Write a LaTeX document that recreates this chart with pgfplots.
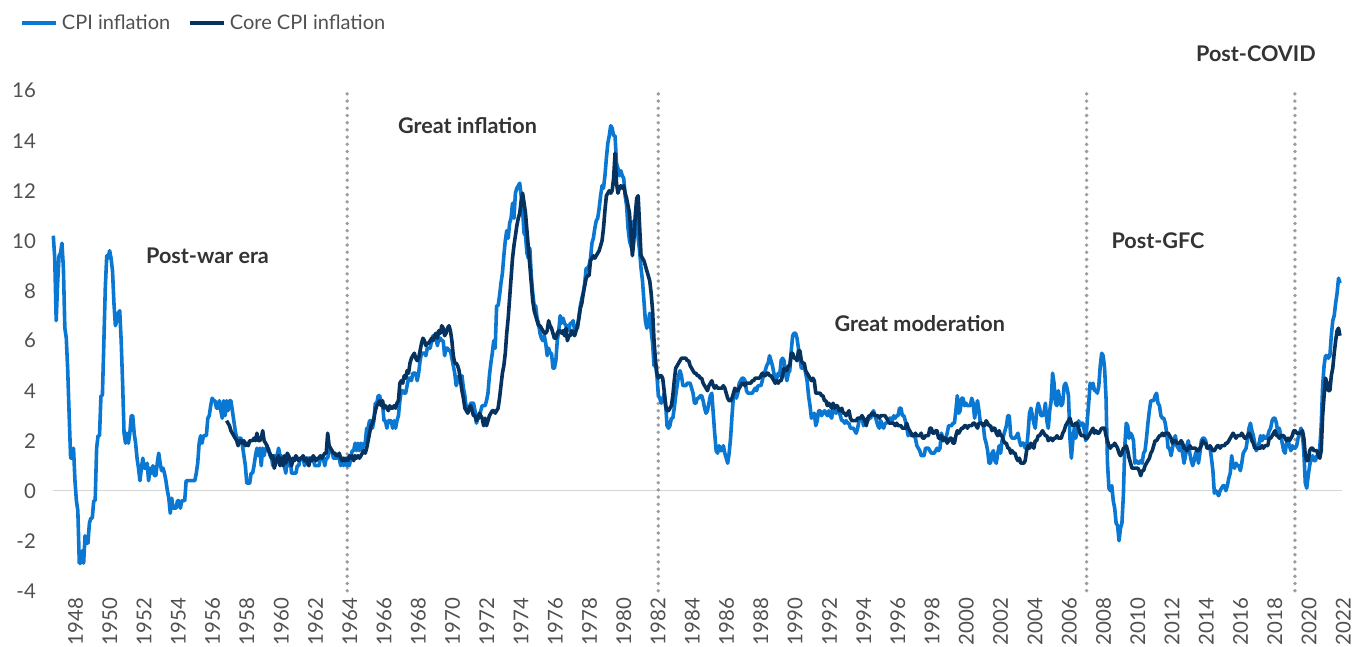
\documentclass[border=0pt]{standalone}
\usepackage{fontspec}
\setmainfont{Lato}
\usepackage{pgfplots}
\pgfplotsset{compat=1.18}
\definecolor{cpiblue}{HTML}{0A77D2}
\definecolor{corenavy}{HTML}{05325E}
\definecolor{ticktext}{HTML}{505050}
\definecolor{anntext}{HTML}{333333}
\definecolor{dotgray}{HTML}{9C9CA2}
\definecolor{zerogray}{HTML}{D5D5D5}
\begin{document}
\begin{tikzpicture}
\path[use as bounding box] (-26.65pt,-28.15pt) rectangle (649.85pt,295.35pt);
\begin{axis}[
  scale only axis, width=644.63pt, height=250pt,
  at={(0,0)}, anchor=south west,
  xmin=1948, xmax=2022.4, ymin=-4, ymax=16,
  clip=false,
  axis line style={draw=none},
  major tick length=0pt,
  tick style={draw=none},
  /pgf/number format/assume math mode=true,
  ytick={-4,-2,...,16},
  yticklabel style={font=\fontsize{10.2}{12}\selectfont, text=ticktext, xshift=-5.2pt},
  xtick={1949.15,1951.127,...,2022.4},
  xticklabels={1948,1950,1952,1954,1956,1958,1960,1962,1964,1966,1968,1970,1972,1974,1976,1978,1980,1982,1984,1986,1988,1990,1992,1994,1996,1998,2000,2002,2004,2006,2008,2010,2012,2014,2016,2018,2020,2022},
  xticklabel style={font=\fontsize{10.2}{12}\selectfont, text=ticktext, rotate=90, anchor=east, yshift=-1.2pt},
  legend columns=2,
  legend style={at={(-0.0305,1.135)}, anchor=west, draw=none, fill=none,
    font=\fontsize{10}{12}\selectfont, text=ticktext,
    /tikz/every even column/.append style={column sep=7pt}},
  legend image code/.code={\draw[#1] (0pt,0pt) -- (17pt,0pt);},
]
% zero line and era separators
\draw[zerogray, line width=0.8pt] (axis cs:1948,0) -- (axis cs:2022.35,0);
\foreach \xx in {1964.96,1982.91,2007.63,2019.65}{
  \edef\tmp{\noexpand\draw[dotgray, line width=1.9pt, line cap=round, dash pattern=on 0pt off 3.6pt] (axis cs:\xx,-4) -- (axis cs:\xx,16);}
  \tmp
}
\addplot[cpiblue, line width=1.8pt, line join=round] table[row sep=\\, header=false, x expr={1948+\coordindex/12}, y index=0] {
10.2\\9.3\\6.8\\8.3\\9.4\\9.5\\9.9\\8.9\\6.5\\6.1\\4.8\\3.0\\
1.3\\1.3\\1.7\\0.4\\-0.4\\-0.8\\-2.9\\-2.9\\-2.4\\-2.9\\-1.8\\-2.1\\
-2.1\\-1.3\\-1.1\\-1.1\\-0.4\\-0.4\\1.7\\2.2\\2.2\\3.8\\3.8\\5.9\\
8.1\\9.4\\9.3\\9.6\\9.3\\8.8\\7.5\\6.6\\6.8\\7.1\\7.2\\6.0\\
4.3\\2.3\\1.9\\2.3\\1.9\\2.3\\3.0\\3.0\\2.3\\1.9\\1.3\\0.9\\
0.4\\0.9\\1.3\\0.9\\0.9\\1.1\\0.4\\0.9\\0.7\\1.0\\0.6\\0.6\\
1.1\\1.5\\1.1\\0.8\\0.9\\0.7\\0.4\\0.0\\-0.3\\-0.9\\-0.3\\-0.7\\
-0.7\\-0.7\\-0.4\\-0.4\\-0.7\\-0.4\\-0.4\\-0.4\\0.4\\0.4\\0.4\\0.4\\
0.4\\0.4\\0.4\\0.7\\1.1\\1.9\\2.2\\1.9\\2.2\\2.2\\2.2\\2.9\\
3.0\\3.4\\3.7\\3.6\\3.6\\3.3\\3.3\\3.6\\3.2\\2.9\\3.6\\3.0\\
3.6\\3.2\\3.6\\3.6\\3.2\\2.8\\2.4\\2.1\\2.1\\2.1\\2.1\\1.8\\
1.4\\1.0\\0.3\\0.3\\0.3\\0.7\\0.7\\1.0\\1.4\\1.7\\1.4\\1.7\\
1.0\\1.7\\1.4\\1.7\\1.7\\1.7\\1.4\\1.4\\1.0\\1.4\\1.4\\1.4\\
1.7\\1.4\\1.4\\1.0\\1.0\\0.7\\1.3\\1.0\\1.3\\0.7\\0.7\\0.7\\
0.7\\1.0\\1.0\\1.3\\1.3\\1.3\\1.0\\1.3\\1.3\\1.3\\1.3\\1.3\\
1.3\\1.0\\1.0\\1.0\\1.0\\1.3\\1.3\\1.3\\1.0\\1.3\\1.3\\1.6\\
1.6\\1.6\\1.3\\1.3\\1.3\\1.3\\1.3\\1.0\\1.3\\1.0\\1.3\\1.0\\
1.0\\1.0\\1.3\\1.6\\1.6\\1.9\\1.6\\1.9\\1.6\\1.9\\1.6\\1.9\\
1.9\\2.5\\2.5\\2.8\\2.8\\2.5\\2.8\\3.5\\3.5\\3.8\\3.8\\3.5\\
3.5\\2.8\\2.8\\2.5\\2.8\\2.8\\2.8\\2.5\\2.8\\2.5\\2.8\\3.0\\
3.6\\4.0\\4.0\\3.9\\3.9\\4.2\\4.5\\4.5\\4.4\\4.7\\4.7\\4.7\\
4.4\\4.7\\5.2\\5.5\\5.5\\5.5\\5.4\\5.7\\5.7\\5.7\\6.0\\6.2\\
6.2\\6.1\\5.8\\6.1\\6.1\\6.0\\6.0\\5.4\\5.7\\5.7\\5.6\\5.6\\
5.3\\5.0\\4.7\\4.2\\4.4\\4.6\\4.4\\4.6\\4.1\\3.8\\3.3\\3.3\\
3.3\\3.5\\3.5\\3.5\\3.2\\2.7\\2.9\\2.9\\3.2\\3.4\\3.4\\3.4\\
3.6\\3.9\\4.6\\5.1\\5.5\\6.0\\5.7\\7.4\\7.4\\7.8\\8.3\\8.7\\
9.4\\10.0\\10.4\\10.1\\10.7\\10.9\\11.5\\10.9\\11.9\\12.1\\12.2\\12.3\\
11.8\\11.2\\10.3\\10.2\\9.5\\9.3\\9.7\\8.6\\7.9\\7.4\\7.4\\6.9\\
6.7\\6.3\\6.1\\6.0\\6.2\\5.9\\5.4\\5.7\\5.5\\5.5\\4.9\\4.9\\
5.2\\6.0\\6.4\\7.0\\6.7\\6.9\\6.7\\6.6\\6.6\\6.4\\6.7\\6.7\\
6.8\\6.4\\6.6\\6.5\\7.0\\7.4\\7.7\\7.9\\8.3\\8.9\\8.9\\9.0\\
9.3\\9.9\\10.1\\10.5\\10.8\\10.9\\11.3\\11.8\\12.2\\12.1\\12.6\\13.3\\
13.9\\14.2\\14.6\\14.5\\14.2\\14.2\\13.1\\12.9\\12.6\\12.8\\12.6\\12.5\\
11.8\\11.4\\10.5\\10.0\\9.8\\9.6\\10.8\\10.8\\11.0\\10.1\\9.6\\8.9\\
8.4\\7.6\\6.8\\6.5\\6.7\\7.1\\6.4\\5.9\\5.0\\5.1\\4.6\\3.8\\
3.7\\3.5\\3.6\\3.9\\3.5\\2.6\\2.5\\2.6\\2.9\\2.9\\3.3\\3.8\\
4.2\\4.6\\4.8\\4.6\\4.2\\4.2\\4.2\\4.3\\4.3\\4.3\\4.1\\3.9\\
3.5\\3.5\\3.7\\3.7\\3.8\\3.8\\3.6\\3.3\\3.1\\3.2\\3.5\\3.8\\
3.9\\3.1\\2.3\\1.6\\1.5\\1.8\\1.6\\1.6\\1.8\\1.5\\1.3\\1.1\\
1.5\\2.1\\3.0\\3.8\\3.9\\3.7\\3.9\\4.3\\4.4\\4.5\\4.5\\4.4\\
4.0\\3.9\\3.9\\3.9\\3.9\\4.0\\4.1\\4.0\\4.2\\4.2\\4.2\\4.4\\
4.7\\4.8\\5.0\\5.1\\5.4\\5.2\\5.0\\4.7\\4.3\\4.5\\4.7\\4.6\\
5.2\\5.3\\5.2\\4.7\\4.4\\4.7\\4.8\\5.6\\6.2\\6.3\\6.3\\6.1\\
5.7\\5.3\\4.9\\4.9\\5.0\\4.7\\4.4\\3.8\\3.4\\2.9\\3.0\\3.1\\
2.6\\2.8\\3.2\\3.2\\3.0\\3.1\\3.2\\3.1\\3.0\\3.2\\3.0\\2.9\\
3.3\\3.2\\3.1\\3.2\\3.2\\3.0\\2.8\\2.8\\2.7\\2.8\\2.7\\2.7\\
2.5\\2.5\\2.5\\2.4\\2.3\\2.5\\2.8\\2.9\\3.0\\2.6\\2.7\\2.7\\
2.8\\2.9\\2.9\\3.1\\3.2\\3.0\\2.8\\2.6\\2.5\\2.8\\2.6\\2.5\\
2.7\\2.7\\2.8\\2.9\\2.9\\2.8\\3.0\\2.9\\3.0\\3.0\\3.3\\3.3\\
3.0\\3.0\\2.8\\2.5\\2.2\\2.3\\2.2\\2.2\\2.2\\2.1\\1.8\\1.7\\
1.6\\1.4\\1.4\\1.4\\1.7\\1.7\\1.7\\1.6\\1.5\\1.5\\1.5\\1.6\\
1.7\\1.6\\1.7\\2.3\\2.1\\2.0\\2.1\\2.3\\2.6\\2.6\\2.6\\2.7\\
2.7\\3.2\\3.8\\3.1\\3.2\\3.7\\3.7\\3.4\\3.5\\3.4\\3.4\\3.4\\
3.7\\3.5\\2.9\\3.3\\3.6\\3.2\\2.7\\2.7\\2.6\\2.1\\1.9\\1.6\\
1.1\\1.1\\1.5\\1.6\\1.2\\1.1\\1.5\\1.8\\1.5\\2.0\\2.2\\2.4\\
2.6\\3.0\\3.0\\2.2\\2.1\\2.1\\2.1\\2.2\\2.3\\2.0\\1.8\\1.9\\
1.9\\1.7\\1.7\\2.3\\3.1\\3.3\\3.0\\2.7\\2.5\\3.2\\3.5\\3.3\\
3.0\\3.0\\3.1\\3.5\\2.8\\2.5\\3.2\\3.6\\4.7\\4.3\\3.5\\3.4\\
4.0\\3.6\\3.4\\3.5\\4.2\\4.3\\4.1\\3.8\\2.1\\1.3\\2.0\\2.5\\
2.1\\2.4\\2.8\\2.6\\2.7\\2.7\\2.4\\2.0\\2.8\\3.5\\4.3\\4.1\\
4.3\\4.0\\4.0\\3.9\\4.2\\5.0\\5.5\\5.4\\4.9\\3.7\\1.1\\0.1\\
0.0\\0.2\\-0.4\\-0.7\\-1.3\\-1.4\\-2.0\\-1.5\\-1.3\\-0.2\\1.8\\2.7\\
2.6\\2.1\\2.3\\2.2\\2.0\\1.1\\1.2\\1.1\\1.1\\1.2\\1.1\\1.5\\
1.6\\2.1\\2.7\\3.2\\3.6\\3.6\\3.6\\3.8\\3.9\\3.5\\3.4\\3.0\\
2.9\\2.9\\2.7\\2.3\\1.7\\1.7\\1.4\\1.7\\2.0\\2.2\\1.8\\1.7\\
1.6\\2.0\\1.5\\1.1\\1.4\\1.8\\2.0\\1.5\\1.2\\1.0\\1.2\\1.5\\
1.6\\1.1\\1.5\\2.0\\2.1\\2.1\\2.0\\1.7\\1.7\\1.7\\1.3\\0.8\\
-0.1\\0.0\\-0.1\\-0.2\\0.0\\0.1\\0.2\\0.2\\0.0\\0.2\\0.5\\0.7\\
1.4\\1.0\\0.9\\1.1\\1.0\\1.0\\0.8\\1.1\\1.5\\1.6\\1.7\\2.1\\
2.5\\2.7\\2.4\\2.2\\1.9\\1.6\\1.7\\1.9\\2.2\\2.0\\2.2\\2.1\\
2.1\\2.2\\2.4\\2.5\\2.8\\2.9\\2.9\\2.7\\2.3\\2.5\\2.2\\1.9\\
1.6\\1.5\\1.9\\2.0\\1.8\\1.6\\1.8\\1.7\\1.7\\1.8\\2.1\\2.3\\
2.5\\2.3\\1.5\\0.3\\0.1\\0.6\\1.0\\1.3\\1.4\\1.2\\1.2\\1.4\\
1.4\\1.7\\2.6\\4.2\\5.0\\5.4\\5.4\\5.3\\5.4\\6.2\\6.8\\7.0\\
7.5\\7.9\\8.5\\8.3\\
};
\addlegendentry{CPI inflation}
\addplot[corenavy, line width=1.8pt, line join=round] table[row sep=\\, header=false, x expr={1958+\coordindex/12}, y index=0] {
2.8\\2.7\\2.6\\2.4\\2.3\\2.2\\2.1\\2.0\\1.8\\2.0\\2.0\\1.9\\
2.0\\1.8\\1.9\\1.8\\2.0\\2.0\\2.0\\2.1\\2.0\\2.3\\2.0\\2.0\\
2.1\\2.4\\2.0\\1.9\\1.8\\1.6\\1.5\\1.3\\1.4\\0.9\\1.1\\1.3\\
1.4\\1.0\\1.3\\1.0\\1.4\\1.1\\1.5\\1.4\\1.2\\1.0\\1.3\\1.2\\
1.4\\1.3\\1.2\\1.3\\1.3\\1.4\\1.2\\1.3\\1.1\\1.0\\1.3\\1.2\\
1.4\\1.3\\1.2\\1.3\\1.3\\1.4\\1.3\\1.4\\1.5\\1.5\\2.3\\1.8\\
1.7\\1.6\\1.5\\1.5\\1.4\\1.4\\1.5\\1.3\\1.2\\1.3\\1.2\\1.3\\
1.2\\1.4\\1.3\\1.4\\1.2\\1.4\\1.3\\1.4\\1.3\\1.4\\1.5\\1.6\\
1.5\\1.7\\2.0\\2.3\\2.6\\2.7\\2.9\\3.2\\3.4\\3.5\\3.6\\3.4\\
3.6\\3.3\\3.4\\3.3\\3.2\\3.4\\3.3\\3.3\\3.4\\3.3\\3.5\\3.6\\
4.3\\4.4\\4.3\\4.6\\4.5\\4.8\\4.7\\5.1\\5.3\\5.4\\5.5\\5.3\\
5.2\\5.3\\5.6\\5.9\\6.1\\6.0\\5.8\\5.9\\5.9\\6.0\\6.1\\6.0\\
6.2\\6.3\\6.1\\6.4\\6.3\\6.6\\6.5\\6.2\\6.3\\6.5\\6.6\\6.4\\
6.0\\5.4\\5.1\\5.1\\5.0\\4.8\\4.4\\4.0\\3.7\\3.3\\3.2\\3.1\\
3.3\\3.4\\3.2\\3.0\\3.0\\2.8\\2.9\\3.1\\3.0\\2.9\\2.6\\2.9\\
2.6\\2.8\\3.0\\3.1\\3.2\\3.2\\3.1\\3.2\\3.3\\3.7\\4.2\\4.7\\
5.0\\5.5\\6.3\\6.9\\7.7\\8.5\\9.3\\9.8\\10.2\\10.6\\10.9\\11.1\\
11.6\\11.9\\11.5\\11.1\\10.4\\9.7\\9.0\\8.3\\7.6\\7.2\\7.0\\6.8\\
6.6\\6.6\\6.5\\6.4\\6.3\\6.3\\6.4\\6.8\\6.6\\6.5\\6.3\\6.1\\
6.1\\6.3\\6.4\\6.4\\6.3\\6.4\\6.2\\6.5\\6.0\\6.2\\6.2\\6.4\\
6.3\\6.2\\6.4\\6.6\\6.9\\7.3\\7.5\\7.9\\8.2\\8.5\\8.6\\8.6\\
9.2\\9.3\\9.4\\9.3\\9.4\\9.5\\9.6\\9.8\\10.0\\10.5\\11.2\\11.8\\
11.9\\12.0\\11.9\\12.0\\12.5\\13.5\\12.3\\11.9\\12.1\\12.2\\12.1\\12.2\\
11.9\\11.7\\11.4\\11.1\\10.2\\9.4\\10.0\\11.0\\11.7\\11.8\\10.6\\9.4\\
9.3\\9.2\\9.0\\8.8\\8.6\\8.4\\7.9\\7.2\\6.0\\5.2\\4.7\\4.5\\
4.6\\4.6\\4.5\\4.0\\3.4\\3.2\\3.2\\3.3\\3.4\\3.8\\4.4\\4.9\\
5.0\\5.1\\5.2\\5.3\\5.3\\5.3\\5.3\\5.2\\5.2\\5.0\\4.9\\4.8\\
4.7\\4.7\\4.6\\4.6\\4.5\\4.5\\4.3\\4.2\\4.1\\4.0\\4.2\\4.3\\
4.4\\4.2\\4.1\\4.2\\4.1\\4.1\\4.1\\4.1\\4.2\\4.1\\3.9\\3.7\\
3.6\\3.6\\3.7\\3.9\\4.1\\4.0\\4.0\\4.1\\4.2\\4.3\\4.3\\4.2\\
4.3\\4.3\\4.3\\4.3\\4.4\\4.4\\4.5\\4.5\\4.5\\4.5\\4.6\\4.7\\
4.6\\4.6\\4.7\\4.7\\4.6\\4.6\\4.5\\4.4\\4.3\\4.4\\4.3\\4.4\\
4.4\\4.6\\4.9\\4.8\\4.8\\5.0\\5.0\\5.5\\5.5\\5.3\\5.3\\5.2\\
5.6\\5.6\\5.2\\5.1\\5.1\\4.8\\4.7\\4.6\\4.5\\4.4\\4.5\\4.4\\
3.9\\3.9\\3.9\\3.9\\3.8\\3.8\\3.6\\3.6\\3.4\\3.5\\3.4\\3.3\\
3.5\\3.3\\3.4\\3.4\\3.2\\3.2\\3.3\\3.1\\3.1\\3.0\\3.1\\3.2\\
2.9\\2.8\\2.8\\2.8\\2.8\\2.9\\2.9\\2.9\\3.0\\2.9\\2.8\\2.6\\
2.9\\3.0\\3.0\\3.1\\3.1\\3.0\\3.0\\3.0\\2.9\\3.0\\3.0\\3.0\\
3.0\\2.9\\2.8\\2.7\\2.7\\2.7\\2.7\\2.6\\2.7\\2.6\\2.6\\2.6\\
2.5\\2.5\\2.5\\2.7\\2.5\\2.4\\2.3\\2.2\\2.2\\2.3\\2.2\\2.2\\
2.2\\2.3\\2.1\\2.1\\2.2\\2.2\\2.2\\2.5\\2.5\\2.3\\2.3\\2.4\\
2.4\\2.1\\2.1\\2.2\\2.0\\2.1\\2.1\\1.9\\2.0\\2.1\\2.1\\1.9\\
1.9\\2.2\\2.4\\2.3\\2.4\\2.5\\2.5\\2.6\\2.6\\2.5\\2.6\\2.6\\
2.6\\2.7\\2.7\\2.6\\2.5\\2.7\\2.7\\2.7\\2.6\\2.6\\2.8\\2.7\\
2.6\\2.6\\2.4\\2.5\\2.5\\2.3\\2.2\\2.4\\2.2\\2.2\\2.0\\1.9\\
1.9\\1.7\\1.7\\1.5\\1.6\\1.5\\1.5\\1.3\\1.2\\1.3\\1.1\\1.1\\
1.1\\1.2\\1.6\\1.8\\1.7\\1.9\\1.8\\1.7\\2.0\\2.0\\2.2\\2.2\\
2.3\\2.4\\2.3\\2.2\\2.2\\2.0\\2.1\\2.1\\2.0\\2.1\\2.1\\2.2\\
2.1\\2.1\\2.1\\2.3\\2.4\\2.6\\2.7\\2.8\\2.9\\2.7\\2.6\\2.6\\
2.7\\2.7\\2.5\\2.3\\2.2\\2.2\\2.2\\2.1\\2.1\\2.2\\2.3\\2.4\\
2.5\\2.3\\2.4\\2.3\\2.3\\2.4\\2.5\\2.5\\2.5\\2.2\\2.0\\1.8\\
1.7\\1.8\\1.8\\1.9\\1.8\\1.7\\1.5\\1.4\\1.5\\1.7\\1.7\\1.8\\
1.6\\1.3\\1.1\\0.9\\0.9\\0.9\\0.9\\0.9\\0.8\\0.6\\0.8\\0.8\\
1.0\\1.1\\1.2\\1.3\\1.5\\1.6\\1.8\\2.0\\2.0\\2.1\\2.2\\2.2\\
2.3\\2.2\\2.3\\2.3\\2.3\\2.2\\2.1\\1.9\\2.0\\2.0\\1.9\\1.9\\
1.9\\2.0\\1.9\\1.7\\1.7\\1.6\\1.7\\1.8\\1.7\\1.7\\1.7\\1.7\\
1.6\\1.6\\1.7\\1.8\\2.0\\1.9\\1.9\\1.7\\1.7\\1.8\\1.7\\1.6\\
1.6\\1.7\\1.8\\1.8\\1.7\\1.8\\1.8\\1.8\\1.9\\1.9\\2.0\\2.1\\
2.2\\2.3\\2.2\\2.1\\2.2\\2.2\\2.2\\2.3\\2.2\\2.1\\2.1\\2.2\\
2.3\\2.2\\2.0\\1.9\\1.7\\1.7\\1.7\\1.7\\1.7\\1.8\\1.7\\1.8\\
1.8\\1.8\\2.1\\2.1\\2.2\\2.3\\2.4\\2.2\\2.2\\2.1\\2.2\\2.2\\
2.2\\2.1\\2.0\\2.1\\2.0\\2.1\\2.2\\2.4\\2.4\\2.3\\2.3\\2.3\\
2.3\\2.4\\2.1\\1.4\\1.2\\1.2\\1.6\\1.7\\1.7\\1.6\\1.6\\1.6\\
1.4\\1.3\\1.6\\3.0\\3.8\\4.5\\4.3\\4.0\\4.0\\4.6\\4.9\\5.5\\
6.0\\6.4\\6.5\\6.2\\
};
\addlegendentry{Core CPI inflation}
\node[font=\fontsize{10.8}{12}\selectfont\bfseries, text=anntext] at (axis cs:1956.9,9.4) {Post-war era};
\node[font=\fontsize{10.8}{12}\selectfont\bfseries, text=anntext] at (axis cs:1971.9,14.6) {Great inflation};
\node[font=\fontsize{10.8}{12}\selectfont\bfseries, text=anntext] at (axis cs:1998.0,6.7) {Great moderation};
\node[font=\fontsize{10.8}{12}\selectfont\bfseries, text=anntext] at (axis cs:2011.75,10.0) {Post-GFC};
\node[font=\fontsize{10.8}{12}\selectfont\bfseries, text=anntext] at (axis cs:2017.4,17.5) {Post-COVID};
\end{axis}
\end{tikzpicture}
\end{document}
